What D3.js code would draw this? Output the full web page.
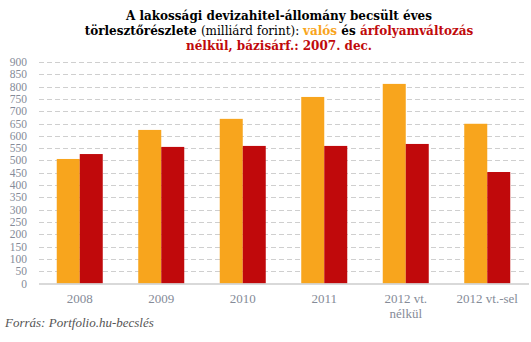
<!DOCTYPE html>
<meta charset="utf-8">
<style>
body { margin: 0; background: #fff; }
text { font-family: "Liberation Serif", "DejaVu Serif", serif; }
.grid line { stroke: #cfcfcf; stroke-dasharray: 5,3; }
.axis text { fill: #858b98; font-size: 13px; }
.yaxis text { fill: #858b98; font-size: 11.5px; }
.title { font-family: "DejaVu Serif", serif; }
</style>
<body>
<script src="https://cdn.jsdelivr.net/npm/d3@7"></script>
<script>

// categories and series
var categories = ["2008", "2009", "2010", "2011", "2012 vt.|nélkül", "2012 vt.-sel"];
var valos = [506, 624, 669, 758, 811, 649];
var bazis = [526, 555, 559, 559, 567, 453];
var yTicks = d3.range(0, 901, 50);

var width = 531, height = 342;
var plotLeft = 39, plotRight = 528, plotTop = 62, plotBottom = 283.5;

var svg = d3.select("body").append("svg")
	.attr("width", width)
	.attr("height", height);

var x = d3.scaleBand().domain(categories).range([plotLeft, plotRight]);
var y = d3.scaleLinear().domain([0, 900]).range([plotBottom, plotTop]);
var groupW = 46;
var xs = d3.scaleBand().domain(["valos", "bazis"]).range([0, groupW]);

// gridlines
svg.append("g").attr("class", "grid")
	.selectAll("line")
	.data(yTicks.filter(function(d) { return d > 0; }))
	.enter().append("line")
	.attr("x1", plotLeft)
	.attr("x2", plotRight - 1)
	.attr("y1", function(d) { return Math.round(y(d)) + 0.5; })
	.attr("y2", function(d) { return Math.round(y(d)) + 0.5; });

// y labels
svg.append("g").attr("class", "yaxis")
	.selectAll("text")
	.data(yTicks)
	.enter().append("text")
	.attr("x", 27)
	.attr("y", function(d) { return y(d) + 4; })
	.attr("text-anchor", "end")
	.text(function(d) { return d; });

// bars
var groups = svg.selectAll(".grp")
	.data(categories)
	.enter().append("g")
	.attr("class", "grp")
	.attr("transform", function(d) {
		return "translate(" + (x(d) + x.bandwidth() / 2 - groupW / 2) + ",0)";
	});

groups.append("rect")
	.attr("x", xs("valos"))
	.attr("width", xs.bandwidth())
	.attr("y", function(d, i) { return y(valos[i]); })
	.attr("height", function(d, i) { return plotBottom - y(valos[i]); })
	.attr("fill", "#f8a51d");

groups.append("rect")
	.attr("x", xs("bazis"))
	.attr("width", xs.bandwidth())
	.attr("y", function(d, i) { return y(bazis[i]); })
	.attr("height", function(d, i) { return plotBottom - y(bazis[i]); })
	.attr("fill", "#c0090b");

// baseline
svg.append("line")
	.attr("x1", plotLeft).attr("x2", plotRight + 1)
	.attr("y1", plotBottom + 0.5).attr("y2", plotBottom + 0.5)
	.attr("stroke", "#cccccc")
	.attr("stroke-width", 1.5);

// x labels
var xl = svg.append("g").attr("class", "axis")
	.selectAll("text")
	.data(categories)
	.enter().append("text")
	.attr("text-anchor", "middle")
	.attr("x", function(d) { return x(d) + x.bandwidth() / 2; })
	.attr("y", 303);
xl.each(function(d) {
	var parts = d.split("|");
	var t = d3.select(this);
	parts.forEach(function(p, i) {
		t.append("tspan")
			.attr("x", x(d) + x.bandwidth() / 2)
			.attr("dy", i ? 14.5 : 0)
			.text(p);
	});
});

// title
var title = svg.append("text")
	.attr("class", "title")
	.attr("text-anchor", "middle")
	.attr("font-size", "12px")
	.attr("font-weight", "bold");
title.append("tspan").attr("x", 279).attr("y", 20).text("A lakossági devizahitel-állomány becsült éves");
var l2 = title.append("tspan").attr("x", 279).attr("y", 35);
l2.append("tspan").text("törlesztőrészlete ");
l2.append("tspan").attr("font-weight", "normal").text("(milliárd forint): ");
l2.append("tspan").attr("fill", "#f8a51d").text("valós");
l2.append("tspan").text(" és ");
l2.append("tspan").attr("fill", "#c0090b").text("árfolyamváltozás");
title.append("tspan").attr("x", 279).attr("y", 49.5).attr("fill", "#c0090b")
	.text("nélkül, bázisárf.: 2007. dec.");

// source
svg.append("text")
	.attr("x", 5)
	.attr("y", 327)
	.attr("font-style", "italic")
	.attr("font-size", "13px")
	.attr("fill", "#555")
	.text("Forrás: Portfolio.hu-becslés");

</script>
</body>
